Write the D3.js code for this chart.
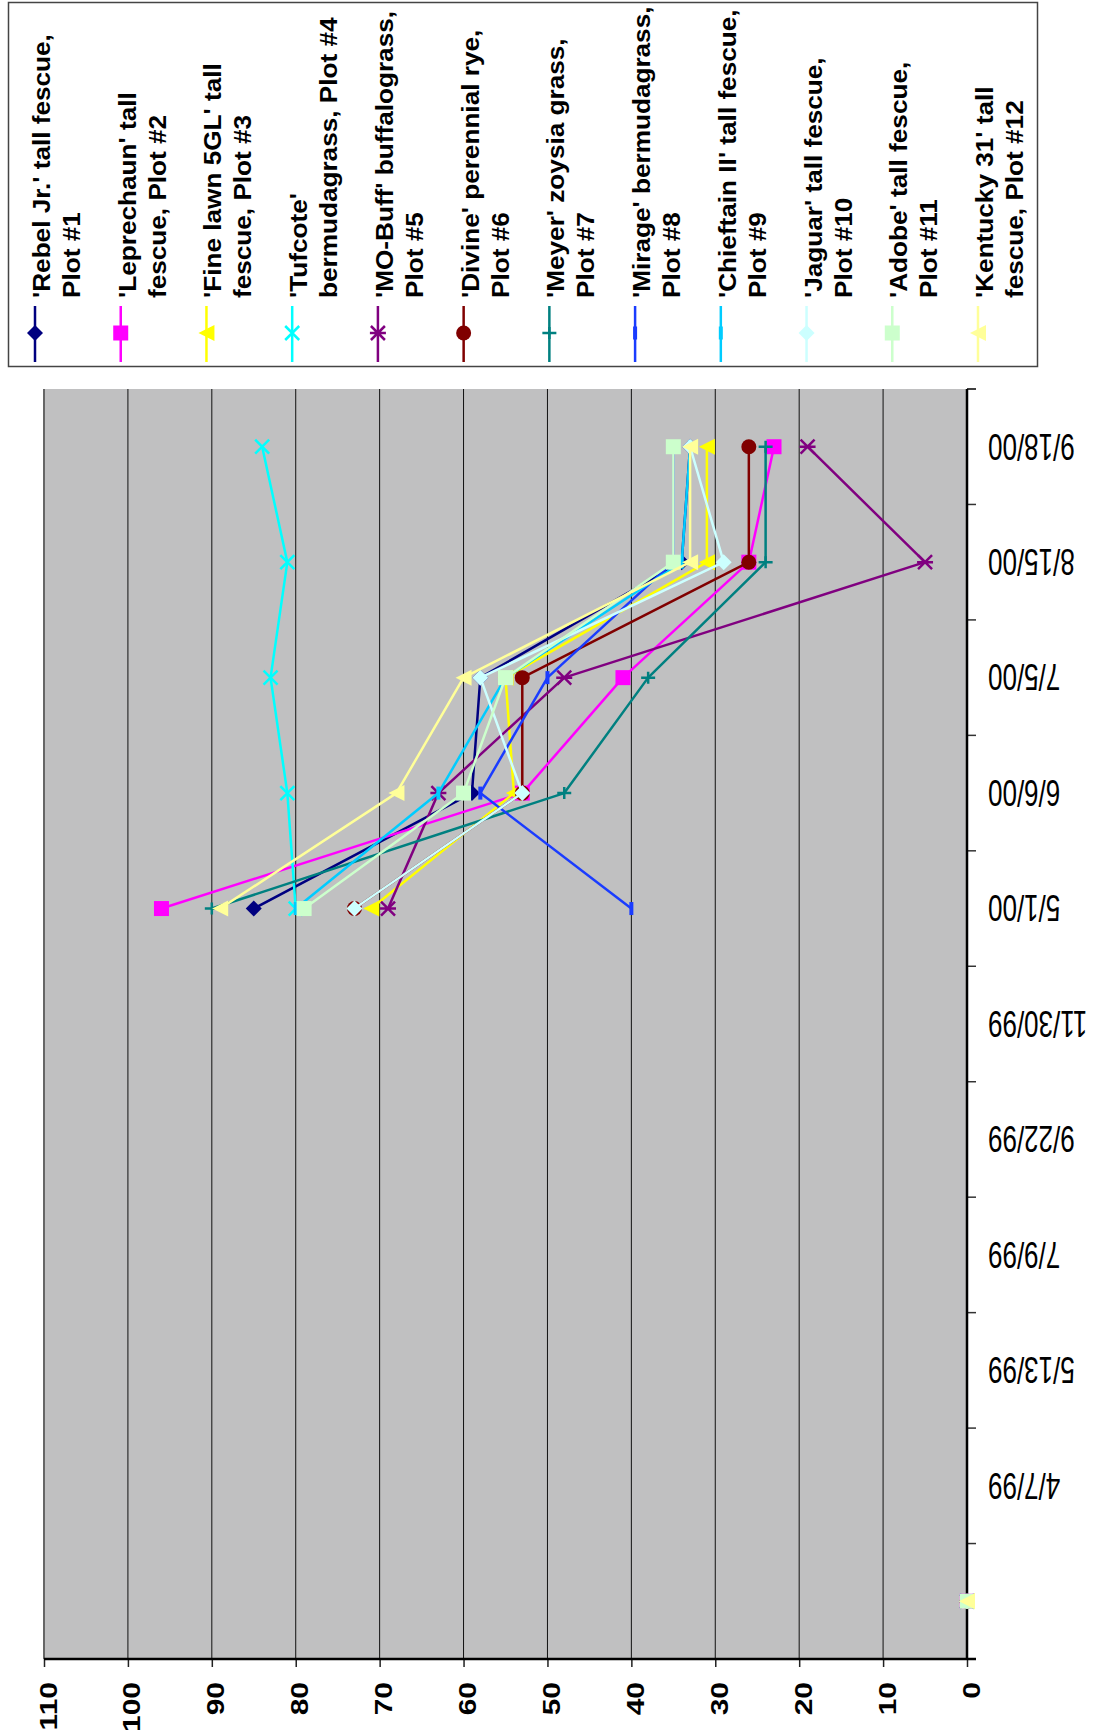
<!DOCTYPE html>
<html>
<head>
<meta charset="utf-8">
<script src="https://cdn.jsdelivr.net/npm/d3@7"></script>
<style>
  body { margin: 0; background: #fff; }
  svg { display: block; font-family: "Liberation Sans", Arial, sans-serif; }
</style>
</head>
<body>
<svg></svg>
<script>
// categories, bottom to top in the picture (the chart is turned on its side)
let dates = ["", "4/7/99", "5/13/99", "7/9/99", "9/22/99", "11/30/99", "5/1/00", "6/6/00", "7/5/00", "8/15/00", "9/18/00"];
let valueTicks = [0, 10, 20, 30, 40, 50, 60, 70, 80, 90, 100, 110];

let seriesNames = [
    ["'Rebel Jr.' tall fescue,", "Plot #1"],
    ["'Leprechaun' tall", "fescue, Plot #2"],
    ["'Fine lawn 5GL' tall", "fescue, Plot #3"],
    ["'Tufcote'", "bermudagrass, Plot #4"],
    ["'MO-Buff' buffalograss,", "Plot #5"],
    ["'Divine' perennial rye,", "Plot #6"],
    ["'Meyer' zoysia grass,", "Plot #7"],
    ["'Mirage' bermudagrass,", "Plot #8"],
    ["'Chieftain II' tall fescue,", "Plot #9"],
    ["'Jaguar' tall fescue,", "Plot #10"],
    ["'Adobe' tall fescue,", "Plot #11"],
    ["'Kentucky 31' tall", "fescue, Plot #12"]
];

let rebel      = [0, null, null, null, null, null, 85, 59, 58, 34, 33];
let leprechaun = [0, null, null, null, null, null, 96, 53, 41, 26, 23];
let fineLawn   = [0, null, null, null, null, null, 71, 54, 55, 31, 31];
let tufcote    = [0, null, null, null, null, null, 80, 81, 83, 81, 84];
let moBuff     = [0, null, null, null, null, null, 69, 63, 48, 5, 19];
let divine     = [0, null, null, null, null, null, 73, 53, 53, 26, 26];
let meyer      = [0, null, null, null, null, null, 90, 48, 38, 24, 24];
let mirage     = [0, null, null, null, null, null, 40, 58, 50, 35, 35];
let chieftain  = [0, null, null, null, null, null, 80, 63, 55, 34, 33];
let jaguar     = [0, null, null, null, null, null, 73, 53, 58, 29, 33];
let adobe      = [0, null, null, null, null, null, 79, 60, 55, 35, 35];
let kentucky   = [0, null, null, null, null, null, 89, 68, 60, 33, 33];

let allValues = [rebel, leprechaun, fineLawn, tufcote, moBuff, divine, meyer, mirage, chieftain, jaguar, adobe, kentucky];
let colors = ["#000080", "#ff00ff", "#ffff00", "#00ffff", "#800080", "#800000", "#008080", "#1a3cff", "#00ccff", "#ccffff", "#ccffcc", "#ffff99"];
let markers = ["diamond", "square", "triangle", "x", "star", "circle", "plus", "bar", "bar", "diamond", "square", "triangle"];

let width = 1093;
let height = 1733;
let plotLeft = 44, plotRight = 967, plotTop = 389, plotBottom = 1659;

let svg = d3.select("svg")
    .attr("width", width)
    .attr("height", height);

let valueScale = d3.scaleLinear()
    .domain([0, 110])
    .range([plotRight, plotLeft]);

let dateScale = d3.scaleBand()
    .domain(dates)
    .range([plotBottom, plotTop]);

let mid = d => dateScale(d) + dateScale.bandwidth() / 2;

// plot area
svg.append("rect")
    .attr("x", plotLeft)
    .attr("y", plotTop)
    .attr("width", plotRight - plotLeft)
    .attr("height", plotBottom - plotTop)
    .attr("fill", "#c0c0c1");

// gridlines
svg.append("g")
    .selectAll("line")
    .data(valueTicks.slice(1))
    .enter()
    .append("line")
    .attr("x1", d => valueScale(d))
    .attr("x2", d => valueScale(d))
    .attr("y1", plotTop)
    .attr("y2", plotBottom)
    .attr("stroke", d => d == 110 ? "#666" : "#111")
    .attr("stroke-width", d => d == 110 ? 2 : 1);

// value axis along the bottom
let valueAxis = d3.axisBottom(valueScale)
    .tickValues(valueTicks)
    .tickSize(8)
    .tickSizeOuter(0)
    .tickFormat("");
let vAxis = svg.append("g")
    .attr("transform", "translate(0," + plotBottom + ")")
    .call(valueAxis);
vAxis.select(".domain").remove();
vAxis.selectAll("line").attr("stroke", "#222").attr("stroke-width", 1.5);
svg.append("line")
    .attr("x1", plotLeft).attr("x2", plotRight + 9)
    .attr("y1", plotBottom).attr("y2", plotBottom)
    .attr("stroke", "#000").attr("stroke-width", 2.5);

svg.append("g")
    .selectAll("text")
    .data(valueTicks)
    .enter()
    .append("text")
    .attr("transform", d => "translate(" + (valueScale(d) + 12.5) + "," + 1682 + ") rotate(-90) scale(1.25,1)")
    .attr("text-anchor", "end")
    .style("font-size", "24px")
    .style("font-weight", "bold")
    .text(d => d);

// date axis along the right side
let boundaries = dates.map(d => dateScale(d)).concat([plotTop]);
svg.append("g")
    .selectAll("line")
    .data(boundaries)
    .enter()
    .append("line")
    .attr("x1", plotRight)
    .attr("x2", plotRight + 9)
    .attr("y1", d => d)
    .attr("y2", d => d)
    .attr("stroke", "#333")
    .attr("stroke-width", 1.5);
svg.append("line")
    .attr("x1", plotRight).attr("x2", plotRight)
    .attr("y1", plotTop).attr("y2", plotBottom + 1)
    .attr("stroke", "#000").attr("stroke-width", 2.5);

svg.append("g")
    .selectAll("text")
    .data(dates)
    .enter()
    .append("text")
    .attr("transform", d => "translate(" + 988 + "," + mid(d) + ") rotate(180) scale(1,1.45)")
    .attr("text-anchor", "end")
    .attr("dy", "0.35em")
    .style("font-size", "26px")
    .text(d => d);

// markers
function drawMarker(g, type, color, x, y) {
    let m = g.append("g").attr("transform", "translate(" + x + "," + y + ")");
    if (type == "diamond") {
        m.append("path").attr("d", "M0,-8L8,0L0,8L-8,0Z").attr("fill", color);
    } else if (type == "square") {
        m.append("rect").attr("x", -7.5).attr("y", -7.5).attr("width", 15).attr("height", 15).attr("fill", color);
    } else if (type == "triangle") {
        m.append("path").attr("d", "M-8,0L8,-8L8,8Z").attr("fill", color);
    } else if (type == "circle") {
        m.append("circle").attr("r", 7.5).attr("fill", color);
    } else if (type == "x") {
        m.append("path").attr("d", "M-7,-7L7,7M-7,7L7,-7").attr("stroke", color).attr("stroke-width", 2.5);
    } else if (type == "star") {
        m.append("path").attr("d", "M-7,-7L7,7M-7,7L7,-7M-8,0L8,0").attr("stroke", color).attr("stroke-width", 2.5);
    } else if (type == "plus") {
        m.append("path").attr("d", "M-7,0L7,0M0,-6L0,6").attr("stroke", color).attr("stroke-width", 2.5);
    } else if (type == "bar") {
        m.append("rect").attr("x", -2).attr("y", -6.5).attr("width", 4).attr("height", 13).attr("fill", color);
    }
}

// series
let line = d3.line()
    .defined(d => d.value != null)
    .x(d => valueScale(d.value))
    .y(d => mid(d.date));

let seriesGroup = svg.append("g");
allValues.forEach((values, i) => {
    let points = dates.map((d, j) => ({ date: d, value: values[j] }));
    let g = seriesGroup.append("g");
    g.append("path")
        .datum(points)
        .attr("d", line)
        .attr("fill", "none")
        .attr("stroke", colors[i])
        .attr("stroke-width", 2.5)
        .attr("stroke-linejoin", "round");
    points.filter(p => p.value != null).forEach(p => {
        drawMarker(g, markers[i], colors[i], valueScale(p.value), mid(p.date));
    });
});

// legend
svg.append("rect")
    .attr("x", 8.5)
    .attr("y", 2.5)
    .attr("width", 1029)
    .attr("height", 364)
    .attr("fill", "#fff")
    .attr("stroke", "#444")
    .attr("stroke-width", 1.5);

let legendX = d3.scaleLinear().domain([0, 11]).range([35, 978]);
seriesNames.forEach((name, i) => {
    let x = legendX(i);
    let g = svg.append("g");
    g.append("line")
        .attr("x1", x).attr("x2", x)
        .attr("y1", 306).attr("y2", 362)
        .attr("stroke", colors[i])
        .attr("stroke-width", 2.5);
    drawMarker(g, markers[i], colors[i], x, 333);
    name.forEach((txt, k) => {
        g.append("text")
            .attr("transform", "translate(" + (x + 15 + 30 * k) + ",298) rotate(-90) scale(1.09,1)")
            .style("font-size", "24px")
            .style("font-weight", "bold")
            .text(txt);
    });
});
</script>
</body>
</html>
